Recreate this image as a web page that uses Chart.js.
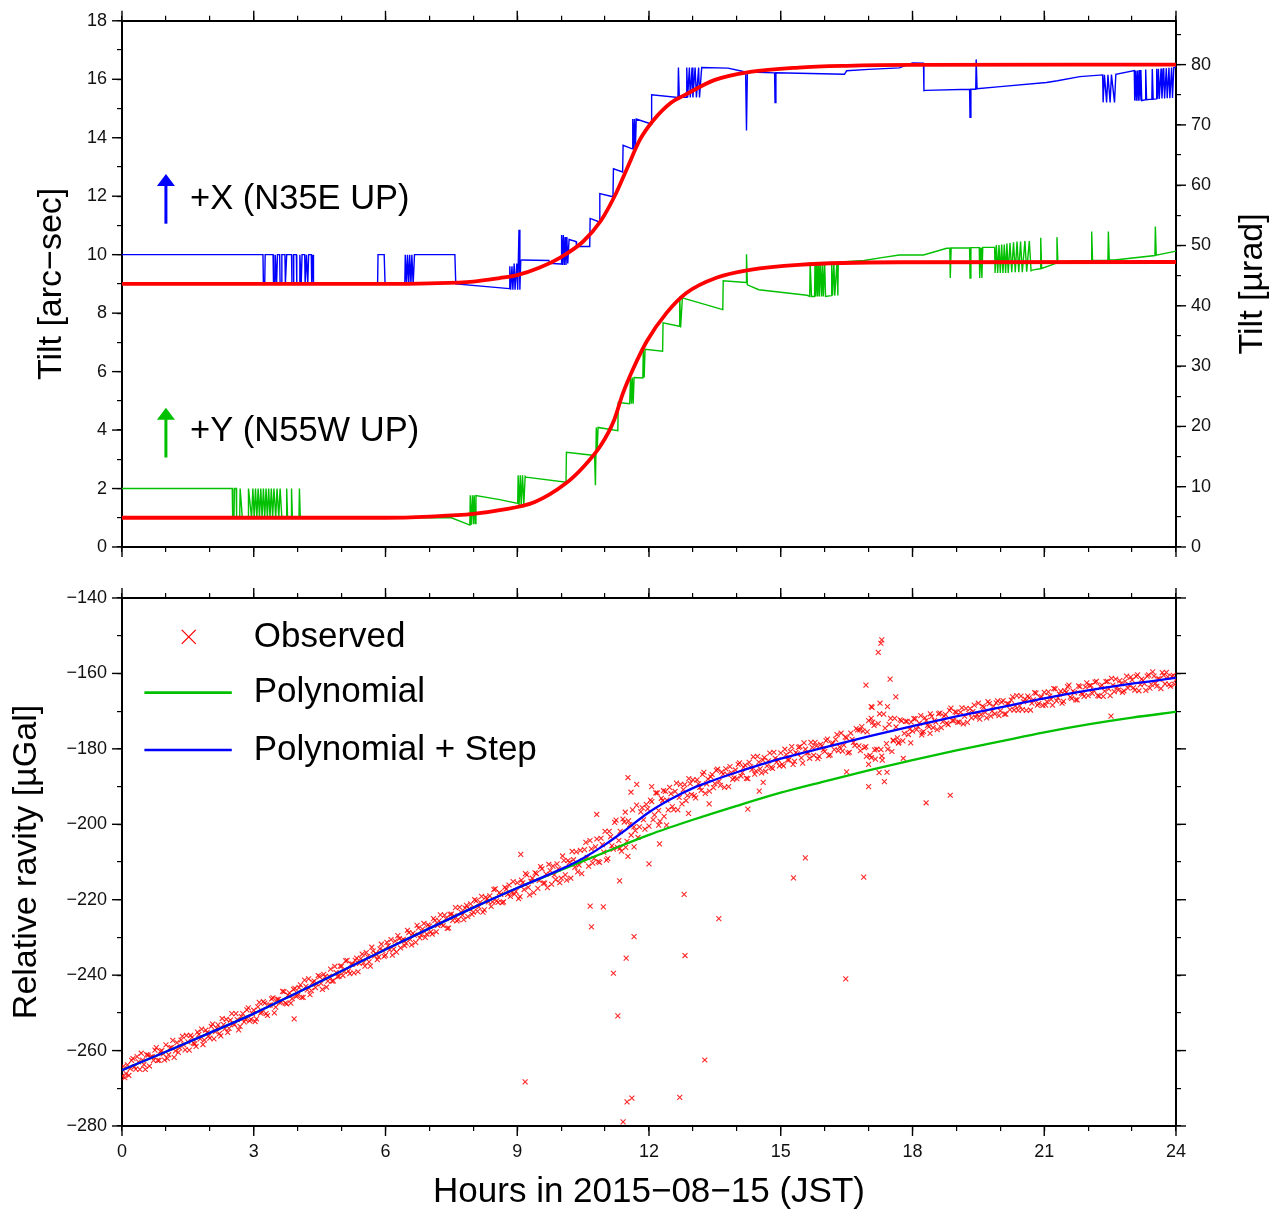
<!DOCTYPE html>
<html>
<head>
<meta charset="utf-8">
<title>Tilt and gravity, 2015-08-15</title>
<script src="https://cdn.jsdelivr.net/npm/chart.js@4.4.1/dist/chart.umd.min.js"></script>
<style>
  html, body { margin: 0; padding: 0; background: #fff; }
  #wrap { position: relative; width: 1281px; height: 1213px; }
  #tilt { position: absolute; left: 0; top: 0; }
  #grav { position: absolute; left: 0; top: 575px; }
</style>
</head>
<body>
<div id="wrap">
  <canvas id="tilt" width="1281" height="575"></canvas>
  <canvas id="grav" width="1281" height="638"></canvas>
</div>
<script>
// ---------------- data (hours in JST, tilt in arc-sec, gravity in µGal) ----------------
const arcsecToMicrorad = 4.8481;

// tiltmeter X component [hour, arc-sec]
const tiltX = [
  [0, 10.0], [3.21, 10.0],
  [3.22, 9.0], [3.25, 9.0], [3.26, 10.0], [3.44, 10.0], [3.45, 9.0], [3.48, 9.0], [3.49, 10.0], [3.52, 9.0],
  [3.54, 10.0], [3.59, 10.0], [3.60, 9.0], [3.63, 9.0], [3.64, 10.0], [3.71, 10.0], [3.72, 9.0], [3.75, 10.0],
  [3.86, 10.0], [3.87, 9.0], [3.90, 9.0], [3.91, 10.0], [3.97, 10.0], [3.98, 9.0], [4.04, 9.0], [4.05, 10.0],
  [4.08, 9.0], [4.10, 10.0], [4.16, 10.0], [4.17, 9.0], [4.20, 10.0], [4.23, 9.0], [4.25, 10.0], [4.31, 10.0],
  [4.32, 9.0], [4.35, 10.0], [4.36, 9.0],
  [5.82, 9.0], [5.83, 10.0], [5.97, 10.0], [5.99, 9.0],
  [6.44, 9.0], [6.45, 10.0], [6.48, 9.0], [6.50, 10.0], [6.53, 9.0], [6.55, 10.0], [6.58, 9.0], [6.60, 10.0],
  [6.63, 9.0], [6.66, 10.0], [7.58, 10.0], [7.60, 9.0], [8.82, 8.84],
  [8.83, 9.6], [8.85, 8.8], [8.88, 9.6], [8.90, 8.8], [8.93, 9.7], [8.95, 8.8], [8.99, 9.7], [9.01, 8.8],
  [9.04, 10.85], [9.06, 8.8], [9.08, 9.8], [9.10, 9.82], [9.72, 9.80], [9.74, 9.70], [10.0, 9.68],
  [10.01, 10.67], [10.03, 9.65], [10.05, 10.67], [10.07, 9.65], [10.09, 10.6], [10.11, 9.65], [10.13, 10.6],
  [10.15, 9.7], [10.18, 10.52], [10.34, 10.45], [10.35, 10.28], [10.65, 10.28], [10.66, 11.24], [10.87, 11.12],
  [10.88, 12.09], [11.18, 11.98], [11.19, 12.94], [11.40, 12.83], [11.41, 13.74], [11.62, 13.62],
  [11.63, 14.64], [11.65, 13.62], [11.67, 14.64], [11.69, 13.62], [11.71, 14.64], [12.05, 14.47],
  [12.06, 15.47], [12.66, 15.38], [12.67, 16.4], [12.69, 15.38], [12.85, 15.38], [12.86, 16.4], [12.88, 15.38],
  [12.92, 16.4], [12.94, 15.38], [12.98, 16.4], [13.0, 15.38], [13.05, 16.4], [13.08, 15.38], [13.13, 16.4],
  [13.15, 15.38], [13.2, 16.4], [13.8, 16.38], [14.07, 16.29], [14.20, 16.25], [14.22, 14.25], [14.24, 16.25],
  [14.86, 16.22], [14.87, 15.2], [14.89, 16.22], [16.2, 16.18], [16.45, 16.17], [16.5, 16.29], [17.0, 16.34],
  [17.7, 16.39], [18.0, 16.56], [18.25, 16.55], [18.26, 15.61], [18.3, 15.62], [19.3, 15.66], [19.31, 14.7],
  [19.33, 15.66], [19.44, 15.66], [19.45, 16.68], [19.47, 15.68], [20.0, 15.75], [21.05, 15.89], [21.3, 15.95],
  [21.81, 16.09], [22.33, 16.15], [22.34, 15.21], [22.37, 16.15], [22.42, 15.21], [22.45, 16.15], [22.5, 15.21],
  [22.53, 16.16], [22.6, 15.21], [22.63, 16.17], [23.05, 16.3], [23.06, 15.27], [23.08, 16.3], [23.1, 15.27],
  [23.12, 16.3], [23.14, 15.27], [23.16, 16.32], [23.18, 15.27], [23.2, 16.32], [23.22, 15.27], [23.3, 15.3],
  [23.31, 16.33], [23.33, 15.3], [23.45, 15.32], [23.46, 16.35], [23.48, 15.32], [23.55, 15.33], [23.56, 16.36],
  [23.58, 15.33], [23.6, 16.36], [23.62, 15.33], [23.66, 16.37], [23.68, 15.34], [23.72, 16.38], [23.74, 15.34],
  [23.78, 16.38], [23.8, 15.35], [23.84, 16.39], [23.86, 15.35], [23.9, 16.4], [23.92, 15.36], [23.95, 16.4],
  [24, 16.4]
];

// tiltmeter Y component [hour, arc-sec]
const tiltY = [
  [0, 2.0], [2.51, 2.0],
  [2.52, 1.0], [2.55, 1.0], [2.56, 2.0], [2.60, 2.0], [2.61, 1.0], [2.68, 1.0], [2.69, 2.0], [2.74, 1.0],
  [2.87, 1.0], [2.88, 2.0], [2.95, 1.0], [2.98, 2.0], [3.01, 1.0], [3.04, 2.0], [3.07, 1.0], [3.10, 2.0],
  [3.13, 1.0], [3.16, 2.0], [3.19, 1.0], [3.22, 2.0], [3.25, 1.0], [3.28, 2.0], [3.31, 1.0], [3.34, 2.0],
  [3.37, 1.0], [3.40, 2.0], [3.43, 1.0], [3.46, 2.0], [3.50, 1.0], [3.53, 2.0], [3.57, 1.0], [3.60, 2.0],
  [3.64, 1.0], [3.74, 1.0], [3.75, 2.0], [3.77, 1.0], [3.85, 1.0], [3.86, 2.0], [3.88, 1.0], [4.03, 1.0],
  [4.04, 2.0], [4.06, 1.0],
  [7.5, 1.0], [7.92, 0.75], [7.93, 1.77], [7.95, 0.75], [7.98, 1.77], [8.0, 0.78], [8.02, 1.77], [8.04, 0.8],
  [8.06, 1.76], [8.6, 1.62], [9.01, 1.49], [9.02, 2.45], [9.04, 1.37], [9.07, 2.45], [9.09, 1.4], [9.12, 2.45],
  [9.15, 1.45], [9.18, 2.42], [9.20, 2.39], [10.11, 2.22], [10.12, 3.24], [10.76, 3.13], [10.78, 2.11],
  [10.80, 4.09], [10.82, 3.3], [10.84, 4.09], [11.29, 3.98], [11.30, 4.94], [11.56, 4.9], [11.58, 5.8],
  [11.60, 4.9], [11.62, 5.8], [11.64, 4.9], [11.66, 5.8], [11.86, 5.78], [11.87, 6.76], [11.89, 5.8],
  [11.91, 6.76], [12.31, 6.7], [12.32, 7.67], [12.69, 7.55], [12.70, 8.57], [12.72, 7.51], [12.76, 8.52],
  [13.68, 8.12], [13.69, 9.11], [14.21, 9.05], [14.22, 10.01], [14.24, 8.97], [14.5, 8.8], [15.6, 8.61],
  [15.66, 8.57], [15.67, 9.74], [15.7, 8.57], [15.77, 8.57], [15.78, 9.74], [15.8, 8.57], [15.82, 9.74],
  [15.84, 8.57], [15.86, 9.74], [15.88, 8.57], [15.9, 9.74], [15.93, 8.57], [15.95, 9.74], [15.97, 8.57],
  [16.0, 9.74], [16.02, 8.57], [16.15, 8.6], [16.16, 9.74], [16.18, 8.6], [16.21, 9.74], [16.23, 8.6],
  [16.28, 9.74], [16.30, 8.6], [16.31, 9.74], [16.9, 9.80], [17.3, 9.9], [17.7, 9.99], [18.25, 9.99],
  [18.78, 10.22], [18.85, 10.22], [18.86, 9.2], [18.88, 10.23], [19.30, 10.23], [19.31, 9.2], [19.33, 10.24],
  [19.52, 10.24], [19.53, 9.2], [19.56, 10.24], [19.58, 9.2], [19.60, 10.25], [19.87, 10.25], [19.88, 9.37],
  [19.91, 10.33], [19.94, 9.37], [19.97, 10.33], [20.0, 9.37], [20.03, 10.35], [20.06, 9.37], [20.09, 10.35],
  [20.12, 9.37], [20.15, 10.38], [20.18, 9.37], [20.22, 10.4], [20.26, 9.4], [20.3, 10.42], [20.34, 9.4],
  [20.38, 10.45], [20.42, 9.4], [20.46, 10.45], [20.5, 9.4], [20.56, 10.47], [20.6, 9.42], [20.66, 10.47],
  [20.7, 9.45], [20.75, 9.48], [20.91, 9.52], [20.92, 10.58], [20.94, 9.53], [21.28, 9.71], [21.29, 10.6],
  [21.31, 9.72], [21.5, 9.78], [22.07, 9.8], [22.08, 10.79], [22.10, 9.8], [22.45, 9.81], [22.46, 10.79],
  [22.48, 9.82], [22.6, 9.82], [23.52, 9.97], [23.53, 10.96], [23.55, 9.98], [24, 10.12]
];

// fitted tilt curves [hour, arc-sec]
const fitX = [
  [0, 9.0], [6, 9.0], [7, 9.02], [8, 9.08], [8.6, 9.2], [9, 9.3], [9.5, 9.55], [10, 9.92], [10.5, 10.45],
  [10.9, 11.15], [11.25, 12.1], [11.5, 12.95], [11.8, 13.95], [12.1, 14.6], [12.5, 15.2], [12.8, 15.45],
  [13.5, 15.98], [14.3, 16.25], [15.4, 16.4], [16.5, 16.46], [18, 16.49], [24, 16.5]
];
const fitY = [
  [0, 1.0], [6, 1.0], [7, 1.04], [8, 1.13], [8.6, 1.26], [9.4, 1.54], [10.1, 2.17], [10.5, 2.73], [10.9, 3.47],
  [11.2, 4.32], [11.4, 5.23], [11.65, 6.13], [11.95, 7.04], [12.4, 8.01], [12.85, 8.69], [13.55, 9.22],
  [14.3, 9.48], [15.4, 9.65], [17.7, 9.74], [24, 9.75]
];

// observed gravity, two interleaved records, 16 readings per hour each (one row per hour)
const obsStepHour = 1 / 16;
const obsStartA = 0;
const obsGravityA = [
  -266.8, -267.2, -263.8, -264.8, -262.1, -264.9, -263.0, -260.7, -263.7, -261.1, -264.1, -261.6, -259.9, -262.6, -260.2, -260.9,
  -258.5, -261.1, -259.2, -261.8, -257.9, -259.3, -256.2, -259.8, -257.7, -256.0, -258.0, -258.9, -255.7, -254.3, -257.2, -255.2,
  -256.7, -253.0, -255.0, -253.2, -256.1, -253.1, -251.7, -254.1, -250.2, -253.1, -251.8, -253.6, -250.2, -251.7, -248.7, -251.7,
  -249.3, -251.6, -247.2, -249.8, -247.4, -250.7, -247.9, -246.0, -248.5, -246.4, -247.1, -244.4, -247.6, -244.7, -246.2, -243.5,
  -245.4, -242.6, -245.9, -243.0, -241.0, -244.1, -241.6, -242.3, -240.4, -243.8, -240.4, -241.6, -238.4, -241.5, -239.3, -240.3,
  -237.6, -239.0, -236.1, -239.6, -237.1, -236.1, -239.1, -235.6, -236.7, -234.0, -236.5, -232.6, -234.9, -235.9, -233.0, -233.4,
  -234.7, -232.2, -230.6, -233.1, -233.9, -230.3, -230.8, -232.2, -228.1, -230.5, -228.9, -231.3, -227.5, -229.4, -226.3, -229.1,
  -227.0, -229.1, -225.5, -226.8, -224.0, -226.9, -225.0, -227.5, -223.8, -224.3, -225.6, -222.0, -224.1, -222.2, -224.5, -221.1,
  -223.3, -220.3, -221.9, -219.1, -222.7, -219.8, -219.0, -220.6, -217.1, -220.7, -218.6, -220.6, -217.2, -216.1, -218.1, -218.5,
  -215.5, -219.2, -215.5, -213.1, -216.7, -215.1, -218.1, -213.1, -214.9, -211.8, -215.6, -216.8, -212.3, -211.1, -214.7, -211.8,
  -214.3, -209.6, -214.8, -210.1, -207.2, -211.4, -212.6, -206.9, -209.6, -204.8, -211.1, -206.5, -209.1, -203.9, -210.1, -205.4,
  -201.9, -209.1, -203.3, -206.6, -198.9, -204.3, -207.1, -199.4, -204.5, -200.1, -196.2, -201.7, -203.5, -196.7, -198.8, -194.7,
  -200.5, -194.0, -197.5, -191.7, -199.2, -193.7, -191.3, -196.2, -191.9, -196.1, -189.1, -192.9, -194.6, -189.5, -192.4, -189.2,
  -188.2, -193.0, -189.3, -191.0, -186.2, -189.3, -191.2, -186.8, -189.2, -185.4, -189.7, -186.7, -185.3, -190.0, -186.3, -187.7,
  -187.9, -183.7, -186.3, -184.3, -187.9, -184.8, -182.1, -185.9, -183.5, -186.4, -182.3, -184.5, -181.1, -185.2, -182.5, -182.9,
  -181.1, -184.5, -181.5, -182.9, -179.4, -183.3, -181.3, -179.4, -183.8, -180.1, -181.1, -178.3, -181.7, -179.2, -182.0, -179.2,
  -180.7, -177.4, -181.6, -178.5, -177.5, -180.5, -175.8, -179.0, -177.1, -180.9, -177.5, -179.1, -175.0, -180.5, -175.3, -179.4,
  -172.5, -182.3, -173.8, -180.1, -170.7, -183.0, -174.5, -180.1, -171.9, -177.9, -174.2, -178.3, -172.6, -175.9, -172.7, -174.8,
  -175.3, -172.0, -174.1, -171.2, -175.4, -172.5, -174.1, -171.4, -172.5, -174.9, -170.5, -172.8, -170.9, -173.6, -169.2, -172.5,
  -170.3, -172.9, -169.1, -171.3, -173.0, -169.3, -170.1, -171.6, -167.9, -170.9, -169.0, -171.8, -168.0, -170.0, -170.7, -167.3,
  -169.9, -167.2, -170.8, -168.1, -167.1, -169.7, -165.9, -168.6, -169.6, -166.8, -166.0, -169.7, -167.0, -165.2, -168.0, -166.2,
  -165.0, -167.5, -166.0, -168.4, -164.1, -166.5, -164.7, -167.4, -165.0, -163.1, -166.6, -165.1, -167.0, -163.5, -165.5, -163.6,
  -165.9, -163.2, -164.5, -162.1, -166.0, -163.1, -164.7, -162.1, -165.9, -163.1, -161.5, -164.4, -162.7, -164.6, -160.7, -163.1,
  -161.7, -164.4, -160.4, -163.0, -161.9, -164.5, -160.4, -162.9, -160.7, -163.4, -161.5, -159.8, -162.8, -160.9, -163.4, -160.5,
  -161.7
];
const obsStartB = 1 / 32;
const obsGravityB = [
  -264.2, -266.1, -266.6, -262.6, -264.3, -261.6, -265.0, -262.5, -265.0, -261.2, -261.7, -262.6, -259.2, -262.6, -260.0, -262.5,
  -262.1, -259.3, -257.3, -260.1, -260.5, -257.2, -258.5, -256.0, -259.9, -256.5, -258.2, -255.1, -256.9, -258.4, -254.6, -256.2,
  -253.6, -256.9, -254.1, -255.5, -251.5, -254.2, -255.2, -251.9, -252.9, -250.2, -254.5, -251.0, -252.4, -249.2, -252.1, -250.2,
  -252.3, -248.4, -250.1, -247.0, -250.2, -248.0, -246.3, -250.0, -246.4, -247.3, -244.3, -247.4, -245.3, -247.4, -243.8, -245.6,
  -243.3, -245.9, -241.3, -243.9, -245.2, -241.9, -243.3, -240.1, -242.2, -239.8, -243.2, -240.3, -241.6, -237.7, -240.4, -237.6,
  -240.1, -236.2, -238.9, -237.1, -239.4, -235.5, -236.9, -234.4, -237.6, -235.1, -237.6, -233.6, -234.2, -235.2, -231.8, -235.0,
  -231.3, -233.3, -234.7, -231.0, -229.5, -232.8, -230.5, -231.5, -228.7, -232.0, -229.4, -226.8, -230.1, -227.8, -230.0, -226.7,
  -228.5, -225.0, -228.5, -225.6, -226.4, -224.1, -227.6, -223.9, -225.5, -222.1, -225.3, -223.3, -225.3, -221.5, -222.4, -223.9,
  -220.0, -223.1, -220.7, -223.3, -219.4, -220.6, -221.8, -217.3, -220.3, -218.1, -220.8, -216.7, -218.6, -219.1, -215.2, -217.8,
  -219.7, -214.8, -217.3, -213.4, -218.7, -214.3, -212.9, -217.0, -211.2, -215.6, -213.2, -210.6, -215.9, -213.4, -210.5, -215.5,
  -208.4, -213.4, -209.6, -214.3, -209.4, -207.3, -210.8, -213.1, -206.7, -208.8, -204.3, -210.3, -206.0, -209.9, -203.7, -207.4,
  -209.5, -201.9, -205.7, -199.5, -206.1, -201.9, -198.6, -206.1, -199.1, -202.9, -200.7, -194.9, -200.7, -195.6, -201.3, -195.9,
  -193.6, -198.8, -191.7, -196.4, -193.1, -197.9, -193.6, -190.2, -195.3, -191.3, -196.2, -189.4, -190.8, -193.7, -187.9, -192.1,
  -192.4, -188.2, -190.2, -186.8, -191.8, -188.0, -187.4, -190.3, -185.7, -188.6, -186.1, -190.2, -186.8, -184.7, -188.1, -185.6,
  -184.1, -187.2, -184.9, -187.8, -183.6, -185.5, -186.7, -182.0, -185.3, -183.0, -186.0, -183.2, -184.9, -180.9, -183.5, -184.5,
  -184.1, -180.1, -182.9, -180.7, -184.1, -181.0, -179.6, -182.4, -178.4, -181.1, -182.5, -179.6, -178.3, -182.6, -178.8, -180.3,
  -177.8, -181.8, -178.7, -180.2, -176.2, -179.5, -180.6, -176.9, -181.1, -175.8, -178.3, -174.6, -179.2, -174.1, -179.7, -175.5,
  -181.7, -172.9, -182.7, -173.3, -180.2, -170.8, -178.6, -173.5, -180.7, -171.9, -177.1, -172.3, -177.9, -172.7, -176.2, -172.9,
  -172.0, -174.9, -173.2, -175.7, -171.8, -173.8, -170.7, -174.4, -172.9, -170.7, -174.4, -171.3, -173.2, -169.8, -172.5, -170.2,
  -172.9, -170.3, -173.4, -169.3, -170.6, -171.8, -168.4, -170.9, -172.1, -168.7, -170.3, -167.5, -171.3, -168.7, -167.8, -171.2,
  -167.6, -170.8, -168.0, -169.6, -166.2, -168.6, -169.8, -166.0, -167.5, -169.8, -166.5, -167.9, -165.1, -168.4, -166.4, -168.5,
  -168.4, -164.9, -166.9, -164.0, -167.3, -165.5, -167.9, -164.6, -163.5, -166.3, -164.7, -167.0, -163.3, -165.2, -166.1, -162.5,
  -163.2, -165.3, -162.3, -165.9, -163.5, -166.1, -162.2, -164.1, -161.3, -164.8, -163.6, -161.9, -165.0, -162.1, -163.9, -161.0,
  -163.8, -160.8, -164.6, -161.5, -162.7, -160.7, -163.9, -159.6, -162.6, -161.4, -164.0, -160.5, -159.7, -162.9, -160.8, -162.9
];

// readings that sit off the regular record (spikes during the event) [hour, µGal]
const obsScatter = [
  [3.92, -251.6], [9.08, -208.0], [9.18, -268.3], [10.66, -221.7], [10.69, -227.2], [10.81, -197.4],
  [10.96, -221.9], [11.19, -239.5], [11.29, -250.8], [11.33, -215.0], [11.41, -278.9], [11.46, -196.8],
  [11.48, -235.5], [11.50, -273.6], [11.61, -272.6], [11.66, -229.8], [12.0, -210.5], [12.24, -205.2],
  [12.70, -272.4], [12.80, -218.6], [12.82, -234.8], [13.27, -262.5], [13.59, -225.0], [14.25, -196.0],
  [15.29, -214.2], [15.56, -208.9], [16.48, -241.0], [16.50, -186.1], [16.89, -214.0], [16.94, -163.1],
  [17.0, -190.0], [17.22, -154.4], [17.30, -151.1], [17.28, -152.0], [17.49, -161.5], [17.62, -166.2],
  [17.06, -168.8], [17.06, -171.9], [18.31, -194.3], [18.86, -192.3], [22.52, -171.3],
  [11.52, -187.6], [11.72, -189.4], [12.06, -190.0], [12.33, -191.1], [11.59, -191.5],
  [11.34, -206.4], [11.52, -208.5], [11.66, -206.0], [12.22, -200.2], [12.4, -200.2], [12.9, -197.1],
  [13.37, -194.6], [14.51, -191.2], [14.6, -188.9],
  [16.8, -175.0], [16.95, -182.0], [17.0, -184.1], [17.24, -186.3], [17.36, -188.7], [17.42, -186.2],
  [17.3, -181.9], [17.14, -180.3], [17.56, -177.7], [17.68, -178.5], [17.79, -182.5], [17.96, -178.4],
  [18.21, -176.3], [18.4, -175.9], [17.08, -169.0], [17.26, -167.9], [17.43, -168.8]
];

// fitted gravity models [hour, µGal]
const polyFit = [
  [0, -265.2], [1, -260.3], [2, -255.3], [3, -250.2], [4, -244.6], [5, -238.9], [6, -233.2], [7, -227.6],
  [8, -222.1], [9, -216.9], [10, -212.1], [11, -207.4], [12, -202.8], [13, -198.8], [14, -195.1], [15, -191.6],
  [16, -188.6], [17, -185.7], [18, -183.0], [19, -180.4], [20, -178.0], [21, -175.6], [22, -173.5],
  [23, -171.7], [24, -170.2]
];
const stepFit = [
  [0, -265.2], [1, -260.3], [2, -255.3], [3, -250.2], [4, -244.6], [5, -238.9], [6, -233.2], [7, -227.6],
  [8, -222.1], [9, -216.9], [10, -211.9], [10.5, -209.0], [11, -205.4], [11.5, -201.2], [12, -196.8],
  [12.5, -193.3], [13, -190.4], [13.5, -188.2], [14, -186.2], [15, -182.6], [16, -179.6], [17, -176.7],
  [18, -174.0], [19, -171.4], [20, -169.0], [21, -166.6], [22, -164.5], [23, -162.7], [24, -161.2]
];

// ---------------- styling ----------------
const RED = '#ff0000', BLUE = '#0000ff', GREEN = '#00c000';
const FONT = "'Liberation Sans', Arial, Helvetica, sans-serif";
const TICK_FONT = { family: FONT, size: 18 };

const pts = arr => arr.map(([x, y]) => ({ x, y }));
const minus = v => (v < 0 ? '\u2212' + (-v) : String(v));

function frameAxis(position, min, max, step, size, labelEvery, fmt) {
  return {
    type: 'linear', position, min, max,
    afterFit: s => { if (s.isHorizontal()) s.height = size; else s.width = size; },
    border: { display: true, color: '#000', width: 2 },
    grid: { display: true, drawOnChartArea: false, drawTicks: true, tickLength: 5, color: '#000', lineWidth: 1.2 },
    ticks: {
      display: labelEvery > 0, stepSize: step, includeBounds: false, autoSkip: false, maxRotation: 0,
      padding: 10, color: '#111', font: TICK_FONT,
      callback: v => (labelEvery > 0 && Math.abs(v % labelEvery) < 1e-9 ? (fmt || String)(v) : '')
    }
  };
}

// longer tick marks at the labelled values
const majorTicks = {
  id: 'majorTicks',
  afterDraw(chart, args, opts) {
    const { ctx } = chart;
    ctx.save();
    ctx.strokeStyle = '#000';
    ctx.lineWidth = 1.4;
    Object.entries(opts.every || {}).forEach(([id, every]) => {
      const s = chart.scales[id];
      s.ticks.forEach(t => {
        const r = t.value / every;
        if (Math.abs(r - Math.round(r)) > 1e-6) return;
        const p = s.getPixelForValue(t.value);
        ctx.beginPath();
        if (s.position === 'left') { ctx.moveTo(s.right, p); ctx.lineTo(s.right - 10, p); }
        else if (s.position === 'right') { ctx.moveTo(s.left, p); ctx.lineTo(s.left + 10, p); }
        else if (s.position === 'top') { ctx.moveTo(p, s.bottom); ctx.lineTo(p, s.bottom - 10); }
        else { ctx.moveTo(p, s.top); ctx.lineTo(p, s.top + 10); }
        ctx.stroke();
      });
    });
    ctx.restore();
  }
};

function drawText(ctx, text, x, y, size, opts = {}) {
  ctx.save();
  ctx.translate(x, y);
  if (opts.rotate) ctx.rotate(opts.rotate);
  ctx.font = size + 'px ' + FONT;
  ctx.fillStyle = opts.color || '#000';
  ctx.textAlign = opts.align || 'left';
  ctx.textBaseline = 'middle';
  ctx.fillText(text, 0, 0);
  ctx.restore();
}

function drawArrow(ctx, x, yFrom, yTo, color) {
  ctx.save();
  ctx.strokeStyle = color;
  ctx.fillStyle = color;
  ctx.lineWidth = 3;
  ctx.beginPath();
  ctx.moveTo(x, yFrom);
  ctx.lineTo(x, yTo + 10);
  ctx.stroke();
  ctx.beginPath();
  ctx.moveTo(x - 9, yTo + 12);
  ctx.lineTo(x + 9, yTo + 12);
  ctx.lineTo(x, yTo);
  ctx.closePath();
  ctx.fill();
  ctx.restore();
}

const tiltNotes = {
  id: 'tiltNotes',
  afterDraw(chart) {
    const { ctx, chartArea: a, scales: { x, y } } = chart;
    const midY = (a.top + a.bottom) / 2;
    drawArrow(ctx, x.getPixelForValue(1), y.getPixelForValue(11.06), y.getPixelForValue(12.76), BLUE);
    drawText(ctx, '+X (N35E UP)', x.getPixelForValue(1.55), y.getPixelForValue(11.9), 34.5);
    drawArrow(ctx, x.getPixelForValue(1), y.getPixelForValue(3.06), y.getPixelForValue(4.76), GREEN);
    drawText(ctx, '+Y (N55W UP)', x.getPixelForValue(1.55), y.getPixelForValue(3.95), 34.5);
    drawText(ctx, 'Tilt [arc\u2212sec]', a.left - 70, midY, 34, { rotate: -Math.PI / 2, align: 'center' });
    drawText(ctx, 'Tilt [\u00b5rad]', a.right + 77, midY, 34, { rotate: -Math.PI / 2, align: 'center' });
  }
};

const gravNotes = {
  id: 'gravNotes',
  afterDraw(chart) {
    const { ctx, chartArea: a, scales: { x, y } } = chart;
    // legend
    const lx0 = x.getPixelForValue(0.51), lx1 = x.getPixelForValue(2.5), tx = x.getPixelForValue(3.0);
    const cx = x.getPixelForValue(1.52);
    const rows = [y.getPixelForValue(-150.3), y.getPixelForValue(-165.1), y.getPixelForValue(-180.3)];
    ctx.save();
    ctx.strokeStyle = RED;
    ctx.lineWidth = 1.3;
    ctx.beginPath();
    ctx.moveTo(cx - 7, rows[0] - 7); ctx.lineTo(cx + 7, rows[0] + 7);
    ctx.moveTo(cx + 7, rows[0] - 7); ctx.lineTo(cx - 7, rows[0] + 7);
    ctx.stroke();
    ctx.lineWidth = 2.6;
    ctx.strokeStyle = GREEN;
    ctx.beginPath(); ctx.moveTo(lx0, rows[1]); ctx.lineTo(lx1, rows[1]); ctx.stroke();
    ctx.strokeStyle = BLUE;
    ctx.beginPath(); ctx.moveTo(lx0, rows[2]); ctx.lineTo(lx1, rows[2]); ctx.stroke();
    ctx.restore();
    drawText(ctx, 'Observed', tx, rows[0], 35);
    drawText(ctx, 'Polynomial', tx, rows[1], 35);
    drawText(ctx, 'Polynomial + Step', tx, rows[2], 35);
    // axis titles
    drawText(ctx, 'Relative ravity [\u00b5Gal]', a.left - 95, (a.top + a.bottom) / 2, 34, { rotate: -Math.PI / 2, align: 'center' });
    drawText(ctx, 'Hours in 2015\u221208\u221215 (JST)', (a.left + a.right) / 2, a.bottom + 66, 35, { align: 'center' });
  }
};

const common = {
  responsive: false, animation: false, events: [],
  layout: { padding: 0 },
  elements: { point: { radius: 0 } }
};

// ---------------- top panel: tilt ----------------
new Chart(document.getElementById('tilt'), {
  type: 'scatter',
  data: {
    datasets: [
      { label: 'Fit X', data: pts(fitX), showLine: true, borderColor: RED, borderWidth: 3.8, pointRadius: 0,
        cubicInterpolationMode: 'monotone', order: 0 },
      { label: 'Fit Y', data: pts(fitY), showLine: true, borderColor: RED, borderWidth: 3.8, pointRadius: 0,
        cubicInterpolationMode: 'monotone', order: 0 },
      { label: '+X (N35E UP)', data: pts(tiltX), showLine: true, borderColor: BLUE, borderWidth: 1.4, pointRadius: 0, order: 1 },
      { label: '+Y (N55W UP)', data: pts(tiltY), showLine: true, borderColor: GREEN, borderWidth: 1.4, pointRadius: 0, order: 1 }
    ]
  },
  options: {
    ...common,
    plugins: {
      legend: { display: false }, tooltip: { enabled: false },
      majorTicks: { every: { x: 3, x2: 3, y: 2, y2: 10 } }
    },
    scales: {
      x: frameAxis('bottom', 0, 24, 1, 28, 0),
      x2: frameAxis('top', 0, 24, 1, 18, 0),
      y: frameAxis('left', 0, 18, 1, 122, 2),
      y2: frameAxis('right', 0, 18 * arcsecToMicrorad, 5, 105, 10)
    }
  },
  plugins: [majorTicks, tiltNotes]
});

// ---------------- bottom panel: gravity ----------------
const observed = obsGravityA.map((g, i) => ({ x: obsStartA + i * obsStepHour, y: g }))
  .concat(obsGravityB.map((g, i) => ({ x: obsStartB + i * obsStepHour, y: g })))
  .concat(pts(obsScatter));

new Chart(document.getElementById('grav'), {
  type: 'scatter',
  data: {
    datasets: [
      { label: 'Polynomial + Step', data: pts(stepFit), showLine: true, borderColor: BLUE, borderWidth: 2.3,
        pointRadius: 0, cubicInterpolationMode: 'monotone', order: 0 },
      { label: 'Polynomial', data: pts(polyFit), showLine: true, borderColor: GREEN, borderWidth: 2.3,
        pointRadius: 0, cubicInterpolationMode: 'monotone', order: 1 },
      { label: 'Observed', data: observed, showLine: false, pointStyle: 'crossRot', pointRadius: 3.5,
        borderColor: 'rgba(255,0,0,0.85)', borderWidth: 1.1, backgroundColor: RED, order: 2 }
    ]
  },
  options: {
    ...common,
    plugins: {
      legend: { display: false }, tooltip: { enabled: false },
      majorTicks: { every: { x: 3, x2: 3, y: 20, y2: 20 } }
    },
    scales: {
      x: frameAxis('bottom', 0, 24, 1, 87, 3),
      x2: frameAxis('top', 0, 24, 1, 23, 0),
      y: frameAxis('left', -280, -140, 10, 122, 20, minus),
      y2: frameAxis('right', -280, -140, 10, 105, 0)
    }
  },
  plugins: [majorTicks, gravNotes]
});
</script>
</body>
</html>
